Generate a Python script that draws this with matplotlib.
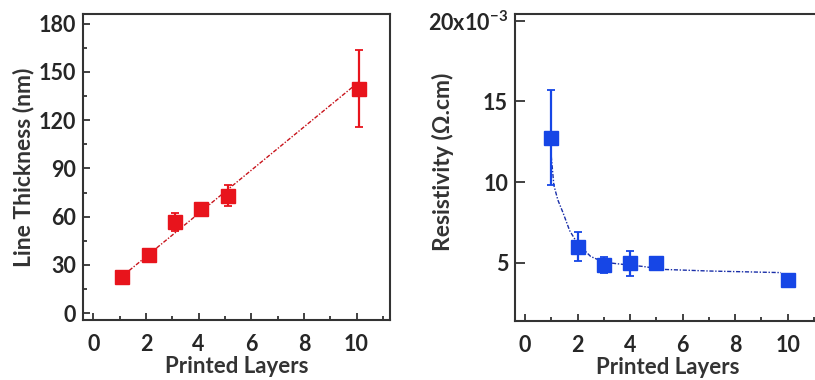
import matplotlib.pyplot as plt
from matplotlib.ticker import MultipleLocator, FixedLocator, FuncFormatter

plt.rcParams['font.family'] = ['Lato', 'DejaVu Sans']
plt.rcParams['font.weight'] = 'bold'
plt.rcParams['mathtext.fontset'] = 'custom'
plt.rcParams['mathtext.bf'] = 'Lato:bold'
plt.rcParams['mathtext.rm'] = 'Lato:bold'

# thickness vs. printed layers
layers_t = [1.1, 2.1, 3.1, 4.1, 5.1, 10.1]
thickness = [22.5, 36.5, 56.5, 65.0, 73.0, 139.5]
thickness_err = [3.0, 3.0, 5.5, 2.5, 6.5, 24.0]
fit_t_x = [1.1, 10.1]
fit_t_y = [23.0, 144.0]

# resistivity vs. printed layers (x1e-3 ohm.cm)
layers_r = [1, 2, 3, 4, 5, 10]
resistivity = [12.75, 6.0, 4.85, 4.97, 5.0, 3.95]
resistivity_err = [2.95, 0.9, 0.5, 0.78, 0.25, 0.25]
fit_r_x = [1.0, 1.1, 1.25, 1.45, 1.7, 2.0, 2.5, 3.0, 3.5, 4.5, 5.25, 7.0, 9.75]
fit_r_y = [11.6, 9.8, 8.9, 8.1, 7.0, 6.2, 5.4, 5.05, 4.95, 4.78, 4.6, 4.5, 4.4]

red = '#e8141c'
blue = '#1646e6'
spine_c = '#333333'
text_c = '#262626'

fig = plt.figure(figsize=(8.15, 3.8), dpi=100)
ax1 = fig.add_axes([0.1022, 0.158, 0.3763, 0.805])
ax2 = fig.add_axes([0.6319, 0.155, 0.3755, 0.808])


def style(ax):
    for s in ax.spines.values():
        s.set_color(spine_c)
        s.set_linewidth(1.5)
    ax.tick_params(which='both', direction='in', colors=spine_c, width=1.3,
                   labelsize=15.5, labelcolor=text_c, pad=5)
    ax.tick_params(axis='x', pad=10)
    ax.tick_params(which='major', length=5)
    ax.tick_params(which='minor', length=3)
    ax.xaxis.set_major_locator(MultipleLocator(2))
    ax.xaxis.set_minor_locator(MultipleLocator(1))
    ax.set_xlim(-0.38, 11.27)
    ax.set_xlabel('Printed Layers', fontsize=16, fontweight='bold',
                  color='#333333', labelpad=1)


# left panel
ax1.plot(fit_t_x, fit_t_y, linestyle=(0, (3, 1.2, 1, 1.2)), color='#c8141c',
         lw=1.0, zorder=2)
ax1.errorbar(layers_t, thickness, yerr=thickness_err, fmt='s', color=red,
             ms=9.5, elinewidth=1.6, capsize=3, capthick=1.3, zorder=3)
style(ax1)
ax1.set_ylim(-4.2, 186)
ax1.yaxis.set_major_locator(MultipleLocator(30))
ax1.yaxis.set_minor_locator(MultipleLocator(15))
ax1.set_ylabel('Line Thickness (nm)', fontsize=16.5, fontweight='bold',
               color='#333333', labelpad=3)

# right panel
ax2.plot(fit_r_x, fit_r_y, linestyle=(0, (3, 1.2, 1, 1.2)), color='#1a2fa8',
         lw=1.0, zorder=2)
ax2.errorbar(layers_r, resistivity, yerr=resistivity_err, fmt='s', color=blue,
             ms=9.5, elinewidth=1.6, capsize=3, capthick=1.3, zorder=3)
style(ax2)
ax2.set_ylim(1.4, 20.4)
ax2.yaxis.set_major_locator(FixedLocator([5, 10, 15, 20]))
ax2.yaxis.set_minor_locator(FixedLocator([]))
ax2.yaxis.set_major_formatter(FuncFormatter(
    lambda v, p: '20x10$^{\\mathbf{-3}}$' if v == 20 else f'{v:.0f}'))
ax2.tick_params(axis='y', which='major', length=7)
ax2.set_ylabel('Resistivity (Ω.cm)', fontsize=16.5, fontweight='bold',
               color='#333333')
ax2.yaxis.set_label_coords(-0.20, 0.52)

fig.savefig('out.png', dpi=100)
